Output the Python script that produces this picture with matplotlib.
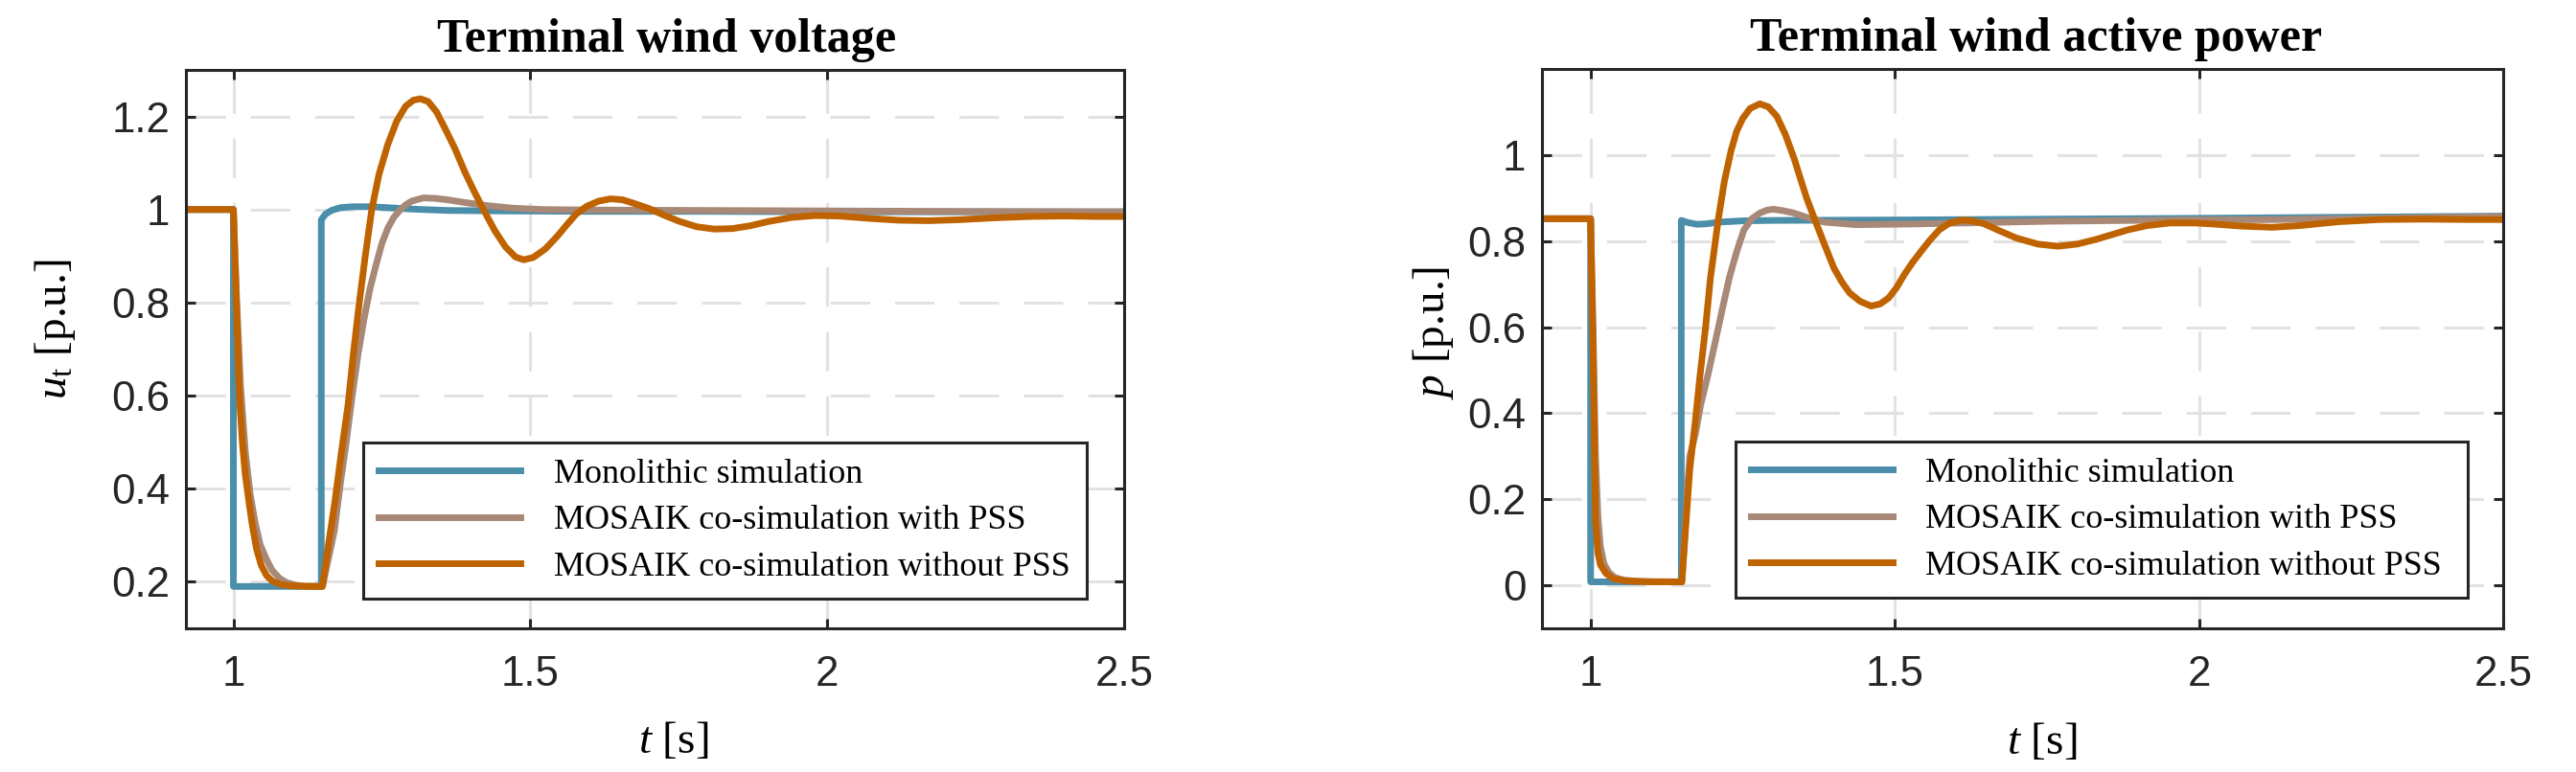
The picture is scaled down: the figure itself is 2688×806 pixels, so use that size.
import matplotlib
matplotlib.use("Agg")
import matplotlib.pyplot as plt

plt.rcParams["font.family"] = ["Liberation Sans", "DejaVu Sans"]
plt.rcParams["mathtext.fontset"] = "custom"
plt.rcParams["mathtext.rm"] = "Liberation Serif"
plt.rcParams["mathtext.it"] = "Liberation Serif:italic"
plt.rcParams["mathtext.bf"] = "Liberation Serif:bold"

series_labels = ["Monolithic simulation",
                 "MOSAIK co-simulation with PSS",
                 "MOSAIK co-simulation without PSS"]
series_colors = ["#4a8eaa", "#a88877", "#bf6300"]

x_ticks = [1, 1.5, 2, 2.5]
x_tick_labels = ["1", "1.5", "2", "2.5"]
u_ticks = [0.2, 0.4, 0.6, 0.8, 1.0, 1.2]
u_tick_labels = ["0.2", "0.4", "0.6", "0.8", "1", "1.2"]
p_ticks = [0, 0.2, 0.4, 0.6, 0.8, 1.0]
p_tick_labels = ["0", "0.2", "0.4", "0.6", "0.8", "1"]

# terminal voltage, monolithic
t_u_mono = [0.92, 1.0, 1.0, 1.148, 1.148, 1.155, 1.165, 1.18, 1.2, 1.23, 1.26, 1.3,
            1.36, 1.45, 1.6, 1.8, 2.0, 2.25, 2.5]
u_mono = [1.0, 1.0, 0.19, 0.19, 0.978, 0.99, 0.998, 1.004, 1.006, 1.006, 1.004, 1.001,
          0.998, 0.997, 0.996, 0.996, 0.995, 0.995, 0.995]

# terminal voltage, co-simulation with PSS
t_u_pss = [0.92, 1.0, 1.005, 1.012, 1.02, 1.028, 1.036, 1.045, 1.055, 1.065, 1.078, 1.09,
           1.105, 1.12, 1.15, 1.16, 1.17, 1.18, 1.19, 1.2, 1.21, 1.22, 1.23, 1.24, 1.25,
           1.26, 1.27, 1.28, 1.29, 1.3, 1.32, 1.34, 1.36, 1.39, 1.43, 1.47, 1.52, 1.6,
           1.8, 2.0, 2.2, 2.5]
u_pss = [1.0, 1.0, 0.82, 0.62, 0.48, 0.39, 0.33, 0.28, 0.25, 0.225, 0.207, 0.198,
         0.193, 0.19, 0.19, 0.25, 0.31, 0.41, 0.50, 0.60, 0.69, 0.765, 0.83, 0.88, 0.927,
         0.96, 0.983, 0.998, 1.01, 1.018, 1.025, 1.024, 1.021, 1.015, 1.008, 1.003, 1.0, 0.999,
         0.998, 0.997, 0.996, 0.995]

# terminal voltage, co-simulation without PSS
t_u_nopss = [0.92, 1.0, 1.003, 1.006, 1.01, 1.015, 1.02, 1.026, 1.032, 1.039, 1.047, 1.056,
             1.066, 1.08, 1.1, 1.15, 1.16, 1.171, 1.182, 1.193, 1.202, 1.212, 1.222, 1.233,
             1.245, 1.26, 1.275, 1.29, 1.303, 1.315, 1.328, 1.342, 1.358, 1.373, 1.39, 1.405,
             1.421, 1.44, 1.458, 1.475, 1.489, 1.505, 1.525, 1.545, 1.56, 1.577, 1.595, 1.615,
             1.635, 1.655, 1.675, 1.7, 1.725, 1.75, 1.78, 1.81, 1.84, 1.87, 1.9, 1.94, 1.98,
             2.02, 2.07, 2.12, 2.17, 2.22, 2.28, 2.34, 2.4, 2.45, 2.5]
u_nopss = [1.0, 1.0, 0.88, 0.76, 0.6, 0.5, 0.43, 0.373, 0.32, 0.27, 0.235, 0.213,
           0.201, 0.194, 0.191, 0.19, 0.28, 0.373, 0.48, 0.58, 0.69, 0.8, 0.9, 1.0,
           1.075, 1.14, 1.19, 1.222, 1.235, 1.238, 1.232, 1.21, 1.17, 1.131, 1.08, 1.04,
           1.0, 0.955, 0.92, 0.898, 0.892, 0.897, 0.915, 0.942, 0.965, 0.99, 1.007, 1.018,
           1.023, 1.021, 1.013, 1.002, 0.988, 0.975, 0.963, 0.958, 0.959, 0.965, 0.974, 0.983, 0.987,
           0.986, 0.981, 0.977, 0.976, 0.978, 0.982, 0.985, 0.986, 0.985, 0.985]

# active power, monolithic
t_p_mono = [0.92, 1.0, 1.0, 1.149, 1.149, 1.16, 1.175, 1.19, 1.21, 1.25, 1.3, 1.5, 2.0, 2.5]
p_mono = [0.852, 0.852, 0.008, 0.008, 0.848, 0.843, 0.839, 0.84, 0.844, 0.847, 0.848,
          0.849, 0.853, 0.858]

# active power, co-simulation with PSS
t_p_pss = [0.92, 1.0, 1.004, 1.008, 1.012, 1.016, 1.022, 1.03, 1.04, 1.055, 1.08, 1.15,
           1.155, 1.16, 1.163, 1.172, 1.181, 1.193, 1.205, 1.217, 1.228, 1.24, 1.252, 1.265,
           1.278, 1.29, 1.3, 1.315, 1.332, 1.36, 1.384, 1.437, 1.542, 1.752, 1.962, 2.12, 2.3, 2.5]
p_pss = [0.852, 0.852, 0.6, 0.3, 0.16, 0.09, 0.05, 0.03, 0.018, 0.012, 0.009, 0.008,
         0.12, 0.24, 0.3, 0.35, 0.42, 0.49, 0.567, 0.645, 0.715, 0.775, 0.826, 0.852,
         0.865, 0.872, 0.874, 0.871, 0.866, 0.853, 0.844, 0.838, 0.84, 0.846, 0.849, 0.85,
         0.853, 0.857]

# active power, co-simulation without PSS
t_p_nopss = [0.92, 1.0, 1.004, 1.008, 1.012, 1.016, 1.025, 1.037, 1.06, 1.1, 1.15, 1.155,
             1.163, 1.172, 1.18, 1.189, 1.197, 1.21, 1.22, 1.231, 1.24, 1.25, 1.262, 1.278,
             1.292, 1.306, 1.32, 1.335, 1.342, 1.355, 1.369, 1.385, 1.4, 1.413, 1.426, 1.443,
             1.461, 1.476, 1.49, 1.503, 1.516, 1.529, 1.542, 1.557, 1.573, 1.59, 1.61, 1.628,
             1.647, 1.672, 1.7, 1.735, 1.768, 1.8, 1.831, 1.857, 1.883, 1.915, 1.952, 1.994,
             2.03, 2.067, 2.12, 2.166, 2.23, 2.297, 2.37, 2.44, 2.5]
p_nopss = [0.852, 0.852, 0.55, 0.15, 0.075, 0.048, 0.028, 0.015, 0.01, 0.008, 0.008, 0.11,
           0.27, 0.38, 0.49, 0.6, 0.715, 0.852, 0.94, 1.011, 1.055, 1.085, 1.108, 1.119,
           1.112, 1.09, 1.048, 0.99, 0.958, 0.9, 0.848, 0.79, 0.737, 0.705, 0.679, 0.66,
           0.649, 0.654, 0.668, 0.692, 0.723, 0.75, 0.774, 0.801, 0.826, 0.842, 0.849, 0.847,
           0.84, 0.824, 0.807, 0.793, 0.788, 0.793, 0.804, 0.815, 0.826, 0.836, 0.842, 0.842,
           0.839, 0.835, 0.832, 0.836, 0.845, 0.85, 0.851, 0.85, 0.85]

serif = ["Liberation Serif", "DejaVu Serif"]
dark = "#262626"

fig = plt.figure(figsize=(13.44, 4.03), dpi=200)
ax1 = fig.add_axes([194 / 2688, 1 - 656 / 806, 979 / 2688, 583 / 806])
ax2 = fig.add_axes([1609 / 2688, 1 - 656 / 806, 1003 / 2688, 584 / 806])


def style(ax, yticks, ytick_labels, ylim, title, ylabel, title_x, ylab_xy, leg_box):
    ax.set_xlim(0.92, 2.5)
    ax.set_ylim(*ylim)
    ax.set_xticks(x_ticks)
    ax.set_xticklabels(x_tick_labels)
    ax.set_yticks(yticks)
    ax.set_yticklabels(ytick_labels)
    ax.grid(True, color="#e2e2e2", linestyle=(0, (13.5, 8.5)), linewidth=1.1)
    ax.set_axisbelow(True)
    ax.tick_params(axis="both", direction="in", length=3.6, width=1.1, top=True, right=True,
                   labelsize=15.8, colors=dark)
    ax.tick_params(axis="y", pad=6)
    ax.tick_params(axis="x", pad=10)
    for s in ax.spines.values():
        s.set_linewidth(1.1)
        s.set_color(dark)
    ax.set_title(title, family=serif, fontweight="bold", fontsize=18, pad=6.8, x=title_x)
    ax.set_xlabel(r"$t$ [s]", family=serif, fontsize=17, va="center")
    ax.xaxis.set_label_coords(0.52, -0.204)
    ax.set_ylabel(ylabel, family=serif, fontsize=17, va="center")
    ax.yaxis.set_label_coords(*ylab_xy)
    leg = ax.legend(loc="lower left", bbox_to_anchor=leg_box, mode="expand",
                    prop={"family": serif, "size": 13}, handlelength=4.1, handletextpad=0.95,
                    labelspacing=0.42, borderpad=0.45, borderaxespad=0, fancybox=False,
                    framealpha=1, edgecolor=dark)
    leg.get_frame().set_linewidth(1.1)


for t, y, c, lab in zip([t_u_mono, t_u_pss, t_u_nopss], [u_mono, u_pss, u_nopss],
                        series_colors, series_labels):
    ax1.plot(t, y, color=c, linewidth=2.5, label=lab)
for t, y, c, lab in zip([t_p_mono, t_p_pss, t_p_nopss], [p_mono, p_pss, p_nopss],
                        series_colors, series_labels):
    ax2.plot(t, y, color=c, linewidth=2.5, label=lab)

style(ax1, u_ticks, u_tick_labels, (0.1, 1.3), "Terminal wind voltage",
      r"$u_\mathrm{t}$ [p.u.]", 0.512, (-0.139, 0.535), (0.189, 0.053, 0.771, 0.311))
style(ax2, p_ticks, p_tick_labels, (-0.1, 1.2), "Terminal wind active power",
      r"$p$ [p.u.]", 0.514, (-0.113, 0.529), (0.201, 0.055, 0.762, 0.311))

fig.savefig("out.png", dpi=200)
